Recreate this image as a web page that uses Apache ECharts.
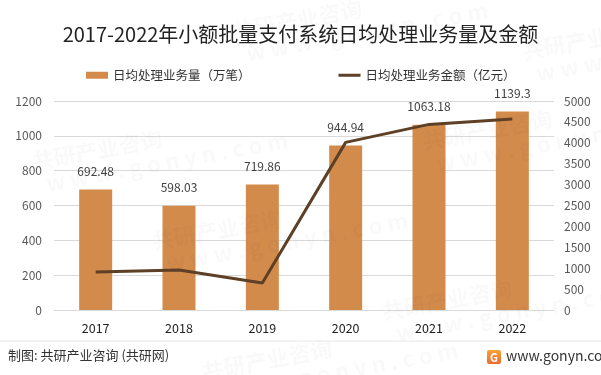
<!DOCTYPE html>
<html>
<head>
<meta charset="utf-8">
<style>
  html, body { margin: 0; padding: 0; background: #fff; }
  #chart-container { width: 601px; height: 375px; }
</style>
<script src="https://cdn.jsdelivr.net/npm/echarts@6/dist/echarts.min.js"></script>
</head>
<body>
<div id="chart-container"></div>
<script>
let years = ['2017', '2018', '2019', '2020', '2021', '2022'];
let volume = [692.48, 598.03, 719.86, 944.94, 1063.18, 1139.3]; // 万笔
let amount = [910, 955, 645, 4010, 4440, 4570]; // 亿元, 读图估计
let leftTicks = [0, 1200, 200];
let rightTicks = [0, 5000, 500];

let dom = document.getElementById('chart-container');
let chart = echarts.init(dom, null, { renderer: 'canvas' });

let font = '"Noto Sans CJK SC", "Noto Sans", sans-serif';

// 水印
let marks = [];
[[30, 150], [230, 20], [420, 130], [150, 230], [380, 300], [520, 40], [200, 360]].forEach(function (p) {
  marks.push({
    type: 'text', x: p[0], y: p[1], rotation: 0.18, silent: true, z: 100,
    style: { text: '共研产业咨询\n  w w w . g o n y n . c o m', fill: 'rgba(0,0,0,0.022)',
      font: 'bold 22px ' + font, lineHeight: 24 }
  });
});

let option = {
  backgroundColor: '#fff',
  textStyle: { fontFamily: font },
  title: {
    text: '2017-2022年小额批量支付系统日均处理业务量及金额',
    left: 'center',
    top: 19,
    textStyle: { fontSize: 20, fontWeight: 'normal', color: '#222', fontFamily: font },
  },
  legend: {
    top: 64,
    left: 81,
    itemGap: 88,
    itemWidth: 22,
    itemHeight: 7,
    textStyle: { fontSize: 12.5, color: '#333' },
    data: [
      { name: '日均处理业务量（万笔）', icon: 'rect' },
      { name: '日均处理业务金额（亿元）', icon: 'path://M0,0 L22,0 L22,3 L0,3 Z' },
    ],
  },
  grid: { left: 54, right: 47, top: 101, bottom: 65 },
  xAxis: {
    type: 'category',
    data: years,
    axisLine: { lineStyle: { color: '#d9d9d9' } },
    axisTick: { show: false },
    axisLabel: { color: '#222', fontSize: 12.5, margin: 12 },
  },
  yAxis: [
    {
      type: 'value',
      min: leftTicks[0], max: leftTicks[1], interval: leftTicks[2],
      axisLine: { show: false },
      axisTick: { show: false },
      axisLabel: { color: '#595959', fontSize: 12, margin: 12, formatter: function (v) { return String(v); } },
      splitLine: { lineStyle: { color: '#d9d9d9' } },
    },
    {
      type: 'value',
      min: rightTicks[0], max: rightTicks[1], interval: rightTicks[2],
      axisLine: { show: false },
      axisTick: { show: false },
      axisLabel: { color: '#595959', fontSize: 12, margin: 10, formatter: function (v) { return String(v); } },
      splitLine: { show: false },
    },
  ],
  series: [
    {
      name: '日均处理业务量（万笔）',
      type: 'bar',
      data: volume,
      barWidth: 33,
      itemStyle: { color: '#D38B4C' },
      label: { show: true, position: 'top', distance: 12, color: '#404040', fontSize: 12 },
    },
    {
      name: '日均处理业务金额（亿元）',
      type: 'line',
      yAxisIndex: 1,
      data: amount,
      symbol: 'none',
      lineStyle: { color: '#5E4027', width: 3 },
      itemStyle: { color: '#5E4027' },
    },
  ],
  graphic: marks.concat([
    { type: 'line', shape: { x1: 0, y1: 341, x2: 601, y2: 341 }, style: { stroke: '#e6e6e6', lineWidth: 1 } },
    { type: 'text', left: 8, top: 349, style: { text: '制图: 共研产业咨询 (共研网)', fill: '#333', font: '13px ' + font } },
    { type: 'rect', shape: { x: 487, y: 350, width: 14, height: 14, r: 2 },
      style: { fill: new echarts.graphic.LinearGradient(0, 0, 0, 1, [{ offset: 0, color: '#F7A23A' }, { offset: 1, color: '#EE6A2B' }]) } },
    { type: 'text', x: 490, y: 352, style: { text: 'G', fill: '#fff', font: 'bold 11px ' + font } },
    { type: 'text', left: 506, top: 349, style: { text: 'www.gonyn.com', fill: '#333', font: '14px ' + font } },
  ]),
};

if (option && typeof option === 'object') {
  chart.setOption(option);
}

window.addEventListener('resize', chart.resize);
</script>
</body>
</html>
